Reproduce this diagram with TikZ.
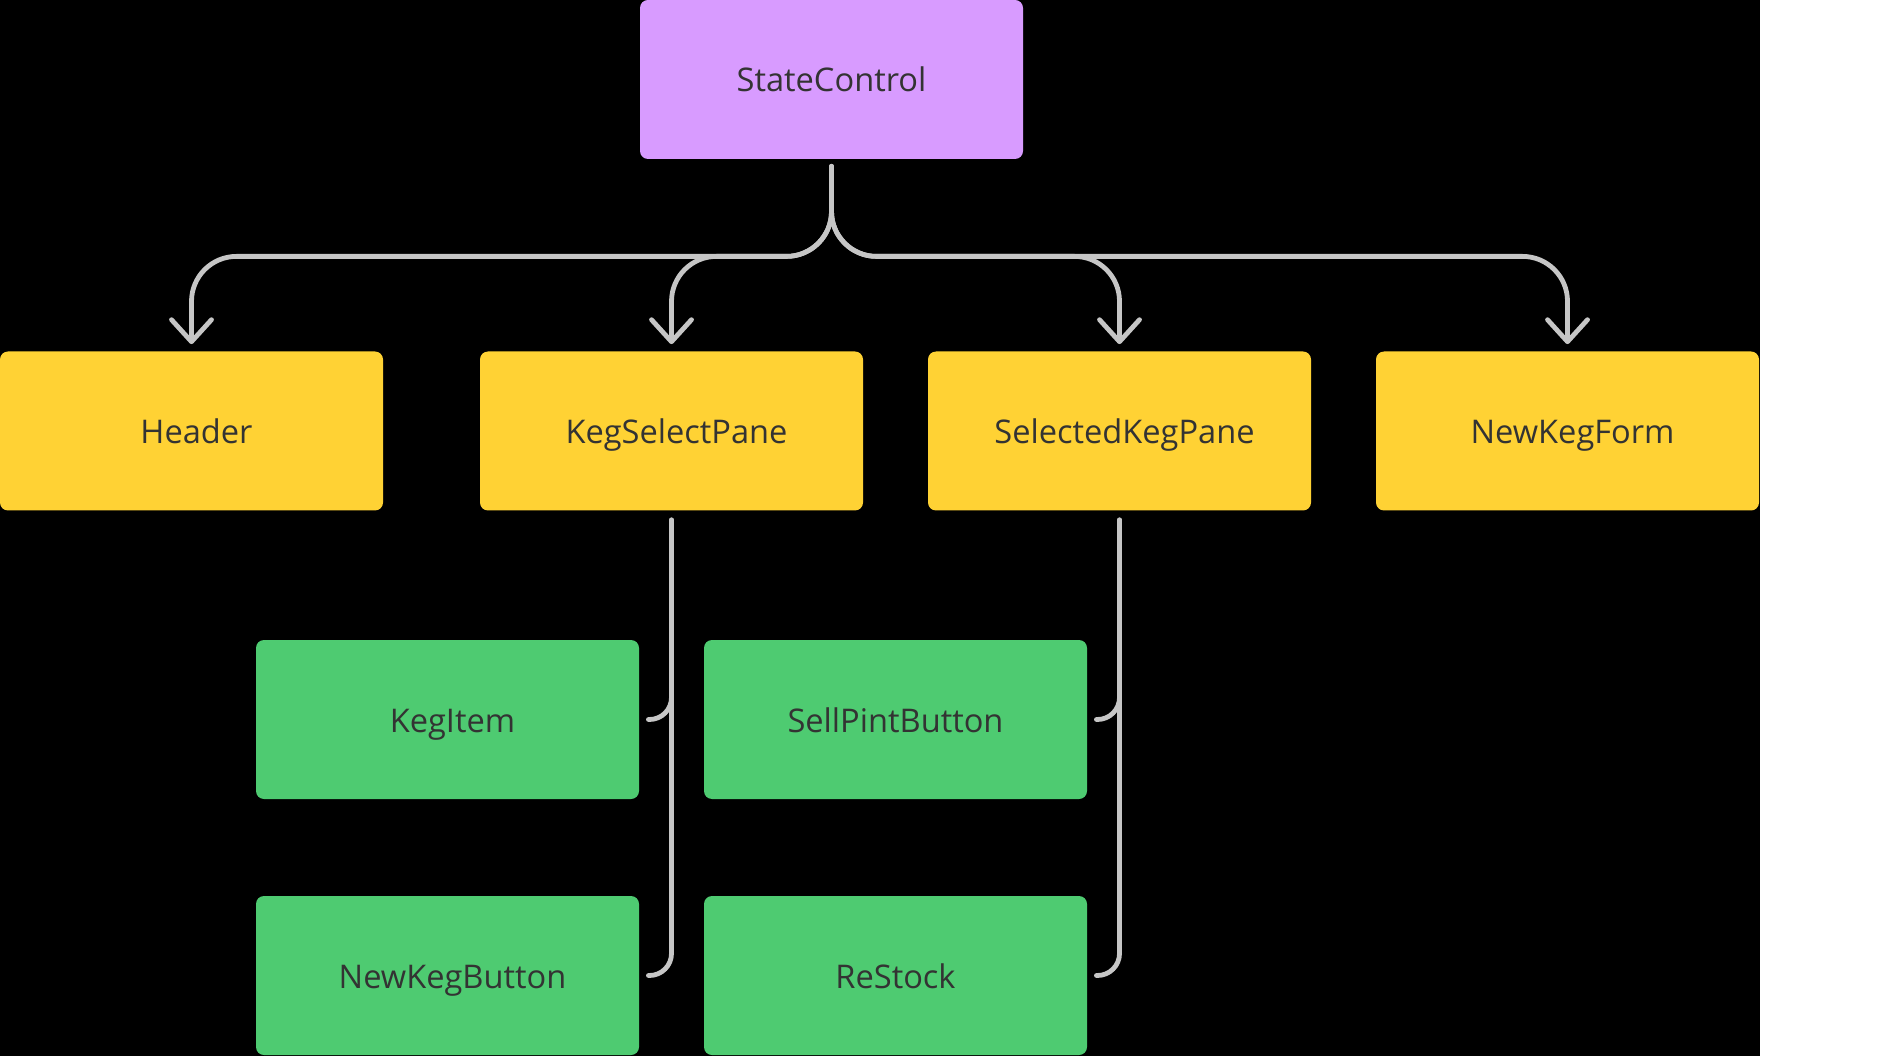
\documentclass[tikz,border=0pt]{standalone}
\usepackage{fontspec}
\setmainfont{Open Sans}
\usetikzlibrary{arrows.meta}
\definecolor{StateViolet}{RGB}{216,155,255}
\definecolor{PaneYellow}{RGB}{255,210,52}
\definecolor{LeafGreen}{RGB}{78,203,113}
\definecolor{LinkGrey}{RGB}{198,198,198}
\definecolor{TextGrey}{RGB}{51,51,51}
\tikzset{
    box/.style={rectangle,rounded corners=4pt,minimum width=191.5pt,minimum height=79.5pt,inner sep=0pt,text height=12.5pt,text depth=0pt,text=TextGrey,font=\fontsize{16.3}{20}\selectfont},
    nudge/.style={execute at begin node={\hspace*{5pt}}},
    statebox/.style={box,fill=StateViolet},
    panebox/.style={box,nudge,fill=PaneYellow},
    leafbox/.style={box,fill=LeafGreen},
    link/.style={LinkGrey,line width=2.4pt,line cap=round,rounded corners=22.5pt},
    linkarrow/.style={link,-{Straight Barb[length=11pt,width=20pt,round]}},
    branch/.style={link,rounded corners=11pt}
}

\begin{document}
\begin{tikzpicture}[x=0.5pt,y=0.5pt]
\useasboundingbox (0,0) rectangle (1883,1056);
\fill[white] (0,0) rectangle (1883,1056);
\fill[black] (0,0) rectangle (1760,1056);

% state
\node[statebox] (sc) at (831.5,976.5) {StateControl};

% panes
\node[panebox] (hd)  at (191.5,625) {Header};
\node[panebox] (ksp) at (671.5,625) {KegSelectPane};
\node[panebox] (skp) at (1119.5,625) {SelectedKegPane};
\node[panebox] (nkf) at (1567.5,625) {NewKegForm};

% leaves
\node[leafbox,nudge] (ki)  at (447.5,336.5) {KegItem};
\node[leafbox] (spb) at (895.5,336.5) {SellPintButton};
\node[leafbox,nudge] (nkb) at (447.5,80.5) {NewKegButton};
\node[leafbox] (rs)  at (895.5,80.5) {ReStock};

% state to panes
\draw[linkarrow] ([yshift=-3.5pt]sc.south) -- ++(0,-90) -| ([yshift=3.5pt]hd.north);
\draw[linkarrow] ([yshift=-3.5pt]sc.south) -- ++(0,-90) -| ([yshift=3.5pt]ksp.north);
\draw[linkarrow] ([yshift=-3.5pt]sc.south) -- ++(0,-90) -| ([yshift=3.5pt]skp.north);
\draw[linkarrow] ([yshift=-3.5pt]sc.south) -- ++(0,-90) -| ([yshift=3.5pt]nkf.north);

% panes to leaves
\draw[branch] ([yshift=-4.5pt]ksp.south) |- ([xshift=4.5pt]ki.east);
\draw[branch] ([yshift=-4.5pt]ksp.south) |- ([xshift=4.5pt]nkb.east);
\draw[branch] ([yshift=-4.5pt]skp.south) |- ([xshift=4.5pt]spb.east);
\draw[branch] ([yshift=-4.5pt]skp.south) |- ([xshift=4.5pt]rs.east);
\end{tikzpicture}
\end{document}
